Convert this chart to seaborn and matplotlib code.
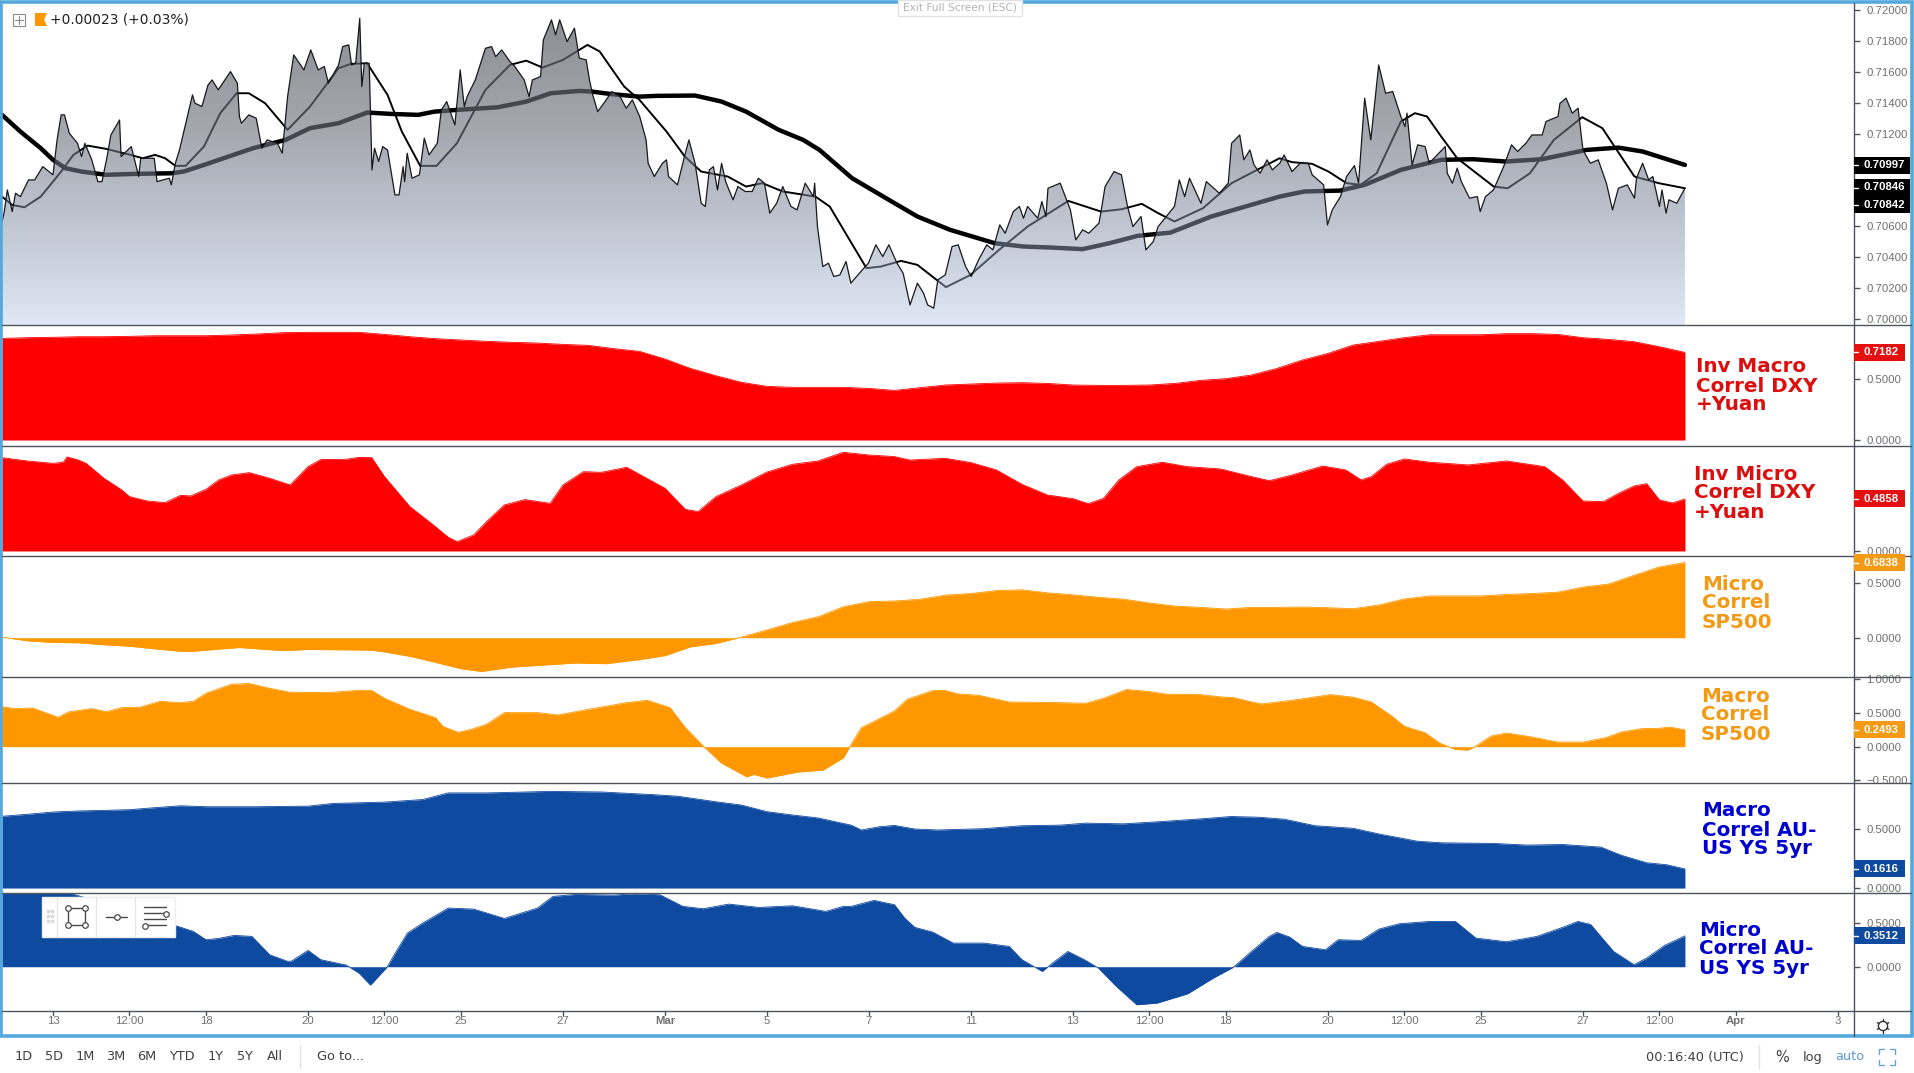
import numpy as np
import matplotlib
matplotlib.use("Agg")
import matplotlib.pyplot as plt
import seaborn as sns
from matplotlib.patches import Rectangle, PathPatch, Circle

price_bar = [0.0,0.8,2.1,4.0,5.3,7.2,10.4,12.8,16.0,18.4,20.0,21.6,23.2,24.5,26.4,29.6,31.2,32.5,35.2,37.6,39.2,41.1,42.7,46.1,46.7,50.7,53.6,54.4,59.7,60.8,65.6,66.4,68.0,69.6,74.7,75.7,78.4,80.8,82.4,84.8,89.6,92.3,93.1,93.9,96.8,99.7,101.9,104.0,108.0,109.9,112.0,114.4,118.4,121.1,124.0,126.4,128.0,132.0,133.6,136.0,137.1,138.7,140.3,141.1,142.1,144.0,145.1,146.1,147.7,149.3,151.2,154.1,155.7,157.3,157.9,158.9,160.8,163.7,165.6,167.5,170.7,172.3,174.4,177.6,179.7,181.3,182.4,185.6,189.6,192.0,193.6,196.0,199.2,201.1,204.8,206.7,208.0,211.2,212.3,215.5,217.1,218.7,221.6,224.5,226.4,229.1,230.4,231.5,233.6,236.0,239.2,242.4,244.8,247.2,250.1,
             252.6,253.4,255.8,259.0,260.6,261.4,264.9,267.8,269.4,271.8,274.2,275.8,277.4,279.0,280.6,282.2,283.8,286.7,288.6,291.5,294.2,296.6,299.0,301.1,303.8,306.2,309.4,311.8,315.0,318.2,318.7,319.8,321.9,324.1,326.2,328.6,331.0,332.9,337.4,339.8,342.7,345.4,347.8,351.0,353.4,356.1,359.0,361.4,363.0,365.4,367.0,369.9,372.6,375.0,377.9,380.1,383.0,386.2,388.6,391.3,393.4,396.6,399.0,400.6,402.2,406.2,407.8,409.4,410.2,415.0,419.0,421.1,423.8,426.2,430.2,431.0,432.6,436.1,439.0,441.4,443.5,446.7,448.6,451.5,453.4,456.6,459.8,461.7,463.8,465.7,470.2,472.3,477.4,480.9,482.2,485.4,487.0,489.4,491.0,493.4,496.1,498.2,501.1,
             502.8,505.9,509.1,512.3,513.8,518.3,519.8,521.7,524.9,527.3,530.4,532.0,534.4,536.8,539.9,542.6,545.4,548.6,550.2,551.0,553.0,555.2,558.1,559.7,566.0,566.8,568.8,570.7,572.3,575.5,578.6,579.7,581.8,584.9,588.9,592.0,594.4,597.6,600.0,604.0,605.5,610.2,611.0,613.4,615.8,618.1,620.0,622.9,626.0,629.2,631.6,633.9,637.4,640.2,641.0,643.4,645.8,647.4,650.0,651.0,652.6,653.7,656.8,660.0]
price_val = [.70631,.70685,.70835,.70695,.70814,.70792,.70900,.70900,.70986,.70954,.70933,.71159,.71321,.71321,.71202,.71137,.71051,.71137,.71030,.70889,.70889,.71040,.71191,.71288,.71051,.71116,.70922,.71040,.71040,.70889,.70911,.70868,.71008,.71094,.71450,.71396,.71375,.71515,.71547,.71483,.71601,.71526,.71310,.71267,.71321,.71299,.71105,.71159,.71137,.71073,.71439,.71709,.71612,.71741,.71612,.71634,.71526,.71644,.71763,.71774,.71644,.71655,.71946,.71504,.71655,.71655,.70965,.71105,.71019,.71116,.71094,.70803,.70803,.70986,.70889,.71073,.70911,.70933,.71170,.71062,.71137,.71353,.71407,.71256,.71612,.71375,.71439,.71547,.71752,.71763,.71698,.71741,.71666,.71634,.71547,.71439,.71547,.71569,.71806,.71936,.71839,.71936,.71795,.71882,.71688,.71677,.71547,.71461,.71342,.71396,.71472,.71439,.71364,.71418,.71310,
             .71159,.71008,.70922,.71008,.71030,.70922,.70868,.71062,.71159,.71008,.70749,.70728,.70965,.70986,.70835,.71008,.70889,.70771,.70857,.70825,.70825,.70911,.70879,.70685,.70749,.70857,.70728,.70706,.70879,.70792,.70879,.70598,.70339,.70361,.70275,.70285,.70372,.70232,.70318,.70361,.70480,.70404,.70480,.70361,.70296,.70091,.70232,.70167,.70091,.70070,.70253,.70285,.70469,.70480,.70339,.70275,.70383,.70480,.70447,.70609,.70555,.70695,.70728,.70652,.70728,.70652,.70760,.70663,.70846,.70879,.70706,.70512,.70577,.70555,.70620,.70695,.70857,.70954,.70933,.70728,.70598,.70663,.70447,.70501,.70598,.70663,.70728,.70900,.70792,.70911,.70749,.70889,.70814,.70879,.71137,.71191,.71030,.71094,.70997,.70943,.71030,.70965,.71008,
             .71062,.70954,.71008,.71008,.70933,.70868,.70609,.70706,.70792,.70922,.70993,.70879,.71429,.71159,.71644,.71461,.71472,.71310,.71245,.71332,.70997,.71127,.71116,.71008,.71116,.70943,.70879,.70976,.70889,.70782,.70792,.70695,.70792,.70835,.70986,.71127,.71084,.71137,.71191,.71191,.71278,.71310,.71396,.71429,.71332,.71364,.71094,.71008,.71030,.70879,.70706,.70846,.70868,.70782,.70911,.71008,.70900,.70922,.70728,.70835,.70685,.70771,.70749,.70846]

slow_bar = [0,7.2,15.2,20,24.8,31.2,40.8,52,66.4,71.2,79.2,88.8,98.4,111.2,120.8,132,143.2,152.8,163.2,169.6,178.4,194.4,205.6,215.2,226.4,231.2,239.2,250,256.6,271.8,282.2,291.8,304.6,314.2,320.6,333.4,347.8,359,371.8,389.4,400.6,411.8,423.8,434.2,445.4,458.2,474.2,485.4,501,510.7,524.9,534.4,548.6,564.4,577,589.7,603.9,621.3,633.9,643.4,660]
slow_val = [.71321,.71213,.71105,.71030,.70976,.70954,.70933,.70939,.70943,.70954,.70997,.71051,.71105,.71159,.71235,.71267,.71336,.71327,.71321,.71342,.71353,.71370,.71407,.71461,.71476,.71472,.71455,.71439,.71444,.71446,.71407,.71342,.71224,.71159,.71094,.70911,.70771,.70663,.70577,.70490,.70469,.70462,.70452,.70490,.70538,.70559,.70663,.70717,.70792,.70825,.70831,.70868,.70965,.71030,.71034,.71019,.71034,.71094,.71109,.71084,.70997]

fast_bar = [0,4,8.8,15.2,23.2,28,33.6,40.8,50.4,55.2,60,64,68,72,79.2,85.6,92,96.8,103.2,112,120.8,132,136.8,143.2,151.2,156.8,164,170.4,178.4,189.6,199.2,205.6,212,220,229.6,234.4,244,250,260.6,267.8,274.2,284.6,291.8,298.2,306.2,319,324.6,339,344.6,352.6,359,370.2,379.8,391,402.2,418.2,431,439,447,453.4,459.8,471,482.2,501,505.9,513.8,520.2,527.3,532.8,539.1,548.6,554.1,558.9,564.4,570.7,585,590.5,599.2,608.6,619.7,627.6,640.2,649.7,660]
fast_val = [.70792,.70738,.70723,.70792,.70954,.71062,.71122,.71101,.71062,.71040,.71062,.71040,.70991,.70991,.71116,.71332,.71461,.71461,.71396,.71224,.71375,.71623,.71651,.71655,.71450,.71213,.70991,.70991,.71137,.71483,.71644,.71672,.71627,.71677,.71774,.71731,.71504,.71418,.71213,.71051,.70954,.70922,.70857,.70879,.70825,.70792,.70728,.70329,.70339,.70376,.70350,.70206,.70285,.70447,.70598,.70764,.70695,.70710,.70745,.70685,.70631,.70717,.70879,.71040,.71015,.71004,.70954,.70879,.70868,.70943,.71278,.71332,.71310,.71181,.71040,.70857,.70846,.70943,.71159,.71306,.71235,.70922,.70879,.70846]

inv_macro_bar = list(range(0, 661, 10))
inv_macro_val = [.833,.839,.842,.847,.847,.850,.855,.855,.855,.861,.869,.880,.883,.883,.883,.866,.847,.831,.820,.809,.801,.795,.784,.776,.749,.727,.664,.587,.527,.473,.440,.432,.432,.432,.423,.407,.429,.451,.459,.467,.470,.464,.451,.448,.448,.451,.464,.489,.503,.533,.587,.656,.710,.779,.809,.839,.863,.863,.863,.872,.872,.866,.839,.825,.806,.765,.7182]

inv_micro_bar = [0,10,20,24,25.5,30,33,40,47,50,57,64,70,74,80,85,90,97,105,113,120,125,135,140,145,150,160,170,175,178.5,185,190,197,205,215,220,228,235,245,260,268,273,280,290,300,310,320,330,340,350,356,370,380,390,400,410,420,426,432,438,445,455,465,478,490,497,505,518,527,533,537,543,550,560,575,590,605,612,620,628,634,640,645,650,655,660]
inv_micro_val = [.872,.841,.819,.829,.879,.850,.819,.679,.570,.508,.467,.452,.520,.514,.576,.664,.710,.732,.679,.617,.788,.854,.857,.875,.872,.695,.414,.227,.128,.087,.150,.274,.430,.480,.445,.617,.741,.735,.782,.586,.389,.368,.508,.617,.738,.810,.841,.922,.897,.882,.850,.866,.826,.757,.623,.523,.489,.442,.492,.664,.788,.829,.788,.766,.695,.657,.704,.794,.757,.664,.695,.810,.860,.829,.804,.841,.788,.664,.467,.461,.539,.607,.629,.477,.449,.4858]

micro_sp_bar = [0,10,20,30,40,50,60,70,75,93,110,120,135,145,150,160,170,180,188,200,210,225,237,250,260,270,280,290,300,310,320,330,340,350,360,370,380,390,400,410,420,430,440,450,460,470,480,490,500,510,520,530,540,550,560,580,590,600,610,620,630,640,650,660]
micro_sp_val = [.006,-.028,-.043,-.046,-.064,-.077,-.101,-.123,-.123,-.089,-.117,-.107,-.110,-.113,-.129,-.169,-.224,-.282,-.307,-.267,-.252,-.230,-.236,-.199,-.163,-.083,-.052,.006,.071,.138,.190,.282,.328,.334,.350,.387,.402,.429,.436,.408,.390,.368,.350,.316,.288,.276,.261,.276,.276,.279,.273,.264,.298,.353,.380,.380,.393,.402,.414,.460,.488,.567,.644,.6838]

macro_sp_bar = [0,5,12,22,26,35,41,47,54,62,70,75,80,90,97,105,113,128,140,145,150,160,170,173,179,184,190,197,210,218,230,245,253,262,268,275,282,292,295,300,312,322,330,333,337,343,350,355,365,370,375,383,395,415,425,432,441,449,457,470,478,483,490,494,505,515,521,530,537,545,550,558,564,570,575,578,584,590,600,610,620,629,635,643,650,654,660]
macro_sp_val = [.594,.564,.574,.436,.515,.564,.520,.579,.584,.673,.653,.673,.792,.926,.936,.866,.807,.802,.837,.832,.718,.554,.431,.297,.213,.257,.332,.505,.505,.470,.554,.653,.688,.579,.282,.010,-.238,-.446,-.411,-.465,-.376,-.347,-.163,.035,.282,.396,.530,.703,.832,.832,.782,.762,.663,.653,.644,.718,.847,.822,.777,.772,.738,.728,.663,.634,.683,.738,.772,.733,.663,.455,.302,.208,.050,-.040,-.050,.010,.158,.203,.144,.069,.069,.134,.218,.267,.272,.292,.2493]

macro_au_bar = [0,10,20,30,40,50,60,70,80,100,120,130,150,165,175,190,200,215,235,255,265,280,290,300,310,320,333,337,344,350,358,367,385,400,415,425,440,455,470,482,493,503,515,530,540,555,565,585,598,612,627,635,645,653,660]
macro_au_val = [.608,.625,.644,.653,.658,.664,.681,.697,.689,.689,.694,.717,.728,.750,.806,.806,.811,.819,.814,.792,.778,.731,.703,.647,.619,.594,.533,.492,.519,.531,.500,.492,.503,.528,.533,.550,.544,.564,.586,.606,.600,.583,.528,.506,.458,.397,.383,.378,.364,.369,.347,.278,.214,.197,.1616]

micro_au_bar = [0,20,25,40,55,69,75,80,85,91,98,105,112,113.5,120,125,135,140,144.5,151,155,159,165,175,185,197,210,216,225,240,248,258,267,275,285,297,310,323,330,333,342,350,354,358,365,373,385,395,400,408,412,418,425,430,437,445,453,465,475,483,490,497,500,505,510,519,524,533,540,548,560,570,578,590,602,613,618,623,632,640,645,652,660]
micro_au_val = [.90,.90,.85,.72,.60,.458,.402,.307,.322,.356,.345,.136,.061,.064,.186,.080,.019,-.072,-.208,-.004,.193,.383,.496,.667,.655,.549,.667,.799,.822,.814,.830,.818,.686,.659,.712,.674,.693,.629,.686,.686,.754,.705,.553,.447,.394,.269,.269,.231,.080,-.053,.042,.174,.072,-.015,-.223,-.432,-.413,-.307,-.129,-.004,.174,.345,.390,.337,.231,.193,.307,.299,.428,.489,.515,.515,.326,.284,.345,.458,.515,.481,.174,.023,.098,.242,.3512]

x_ticks = [20,50,80,120,150,180,220,260,300,340,380,420,450,480,520,550,580,620,650,680,720]
x_labels = ['13','12:00','18','20','12:00','25','27','Mar','5','7','11','13','12:00','18','20','12:00','25','27','12:00','Apr','3']
price_ticks = [.72,.718,.716,.714,.712,.71,.706,.704,.702,.70]

W, H = 1914, 1073
RED, ORANGE, BLUE = '#ff0000', '#ff9800', '#0f4aa1'
GREY = '#50535e'
TICK_TXT = '#6f6f6f'
FRAME = '#54a8dc'

sns.set_theme(style="white")
plt.rcParams['font.family'] = ['Liberation Sans', 'DejaVu Sans']

fig = plt.figure(figsize=(W / 100, H / 100), dpi=100)

def pane(y0, y1):
    a = fig.add_axes([2 / W, 1 - y1 / H, 1852 / W, (y1 - y0) / H])
    a.set_xlim(0, 726.3)
    a.set_facecolor('white')
    a.set_xticks([])
    for s in a.spines.values():
        s.set_visible(False)
    a.yaxis.tick_right()
    a.tick_params(axis='y', right=True, left=False, length=4, width=1, color=GREY,
                  labelcolor=TICK_TXT, labelsize=8.2, pad=5)
    return a

# Main price pane
ax = pane(3, 325)
ymin, ymax = .69961, .72045
sns.lineplot(x=slow_bar, y=slow_val, ax=ax, color='black', linewidth=3.2, estimator=None, errorbar=None, zorder=2)
sns.lineplot(x=fast_bar, y=fast_val, ax=ax, color='black', linewidth=1.4, estimator=None, errorbar=None, zorder=2)

# area gradient sits on top of the averages, that is why they turn grey under it
stop_y = [ymax, .7185, .712, .708, .704, .700, ymin]
stop_bg = [(.54, .55, .57), (.56, .57, .59), (.65, .66, .69), (.72, .74, .78), (.79, .82, .87), (.87, .90, .95), (.89, .92, .97)]
stop_a = [.72, .72, .62, .55, .5, .45, .45]
yy = np.linspace(ymax, ymin, 300)
alpha = np.interp(yy, stop_y[::-1], stop_a[::-1])
rgba = np.zeros((300, 1, 4))
for i in range(3):
    bg = np.interp(yy, stop_y[::-1], [c[i] for c in stop_bg][::-1])
    rgba[:, 0, i] = np.clip((bg - (1 - alpha)) / alpha, 0, 1)
rgba[:, 0, 3] = alpha
poly = ax.fill_between(price_bar, price_val, ymin, color='none', linewidth=0)
im = ax.imshow(rgba, extent=[0, 660, ymin, ymax], aspect='auto', zorder=3)
clip = PathPatch(poly.get_paths()[0], fc='none', ec='none', transform=ax.transData)
ax.add_patch(clip)
im.set_clip_path(clip)
sns.lineplot(x=price_bar, y=price_val, ax=ax, color='#17181c', linewidth=.9, estimator=None, errorbar=None, zorder=4)
ax.set_xlim(0, 726.3)
ax.set_ylim(ymin, ymax)
ax.set_yticks(price_ticks)
ax.set_yticklabels(['%.5f' % t for t in price_ticks])
ax.set_xlabel('')
ax.set_ylabel('')

# Correlation panes
panes = [
    (325, 446, inv_macro_bar, inv_macro_val, RED, (-.049, .943), [0, .5]),
    (446, 556, inv_micro_bar, inv_micro_val, RED, (-.047, .981), [0]),
    (556, 677, micro_sp_bar, micro_sp_val, ORANGE, (-.357, .743), [0, .5]),
    (677, 783, macro_sp_bar, macro_sp_val, ORANGE, (-.538, 1.033), [-.5, 0, .5, 1]),
    (783, 893, macro_au_bar, macro_au_val, BLUE, (-.042, .890), [0, .5]),
    (893, 1011, micro_au_bar, micro_au_val, BLUE, (-.503, .838), [0, .5]),
]
axes = []
for y0, y1, xs, ys, col, lims, ticks in panes:
    a = pane(y0, y1)
    sns.lineplot(x=xs, y=ys, ax=a, color=col, linewidth=.6, estimator=None, errorbar=None)
    a.fill_between(xs, ys, 0, color=col, linewidth=0)
    a.set_xlim(0, 726.3)
    a.set_ylim(*lims)
    a.set_yticks(ticks)
    a.set_yticklabels([('%.4f' % t).replace('-', '\u2212') for t in ticks])
    a.set_xlabel('')
    a.set_ylabel('')
    axes.append(a)

# Time axis
tax = pane(1011, 1036)
tax.set_yticks([])
tax.set_xticks(x_ticks)
tax.set_xticklabels(x_labels)
tax.tick_params(axis='x', top=False, bottom=False, labeltop=False, labelbottom=True,
                length=0, labelcolor=TICK_TXT, labelsize=8.2, pad=-14.5)
for lab in tax.get_xticklabels():
    if lab.get_text() in ('Mar', 'Apr'):
        lab.set_fontweight('bold')
tax.set_ylim(0, 1)
for t in x_ticks:
    tax.plot([t, t], [1, .84], color=GREY, lw=1)

# Overlay in pixel coordinates, for everything that is chrome and not chart
ov = fig.add_axes([0, 0, 1, 1], zorder=20)
ov.set_xlim(0, W)
ov.set_ylim(H, 0)
ov.axis('off')
ov.patch.set_alpha(0)

for y in [325, 446, 556, 677, 783, 893, 1011]:
    ov.plot([2, 1911], [y, y], color=GREY, lw=1)
ov.plot([1854, 1854], [3, 1036], color=GREY, lw=1)

# Frame
ov.add_patch(Rectangle((1, 1.5), 1910.5, 1034.5, fc='none', ec=FRAME, lw=2.6))

def badge(yc, txt, col, h=17, right=1905):
    ov.add_patch(Rectangle((1854, yc - h / 2), right - 1854, h, fc=col, ec='none', zorder=5))
    ov.plot([1854, 1858], [yc, yc], color='white', lw=1, zorder=6)
    ov.text(1863, yc, txt, color='white', fontsize=8.2, fontweight='bold', va='center', ha='left', zorder=6)

def val_y(a, v):
    return H - a.transData.transform((0, v))[1]

badge(165, '0.70997', 'black', h=17, right=1910)
ov.add_patch(Rectangle((1854, 179), 56, 34, fc='black', ec='none', zorder=5))
for yc, txt in [(187.5, '0.70846'), (204.5, '0.70842')]:
    ov.plot([1854, 1858], [yc, yc], color='white', lw=1, zorder=6)
    ov.text(1863, yc, txt, color='white', fontsize=8.2, fontweight='bold', va='center', ha='left', zorder=6)
badge(val_y(axes[0], .7182), '0.7182', '#e60f0f')
badge(val_y(axes[1], .4858), '0.4858', '#e60f0f')
badge(val_y(axes[2], .6838), '0.6838', '#f59a14')
badge(val_y(axes[3], .2493), '0.2493', '#f59a14')
badge(val_y(axes[4], .1616), '0.1616', BLUE)
badge(val_y(axes[5], .3512), '0.3512', BLUE)

# Pane captions
captions = [
    (1696, 386, 'Inv Macro\nCorrel DXY\n+Yuan', '#dc0f0f'),
    (1694, 493, 'Inv Micro\nCorrel DXY\n+Yuan', '#dc0f0f'),
    (1702, 603, 'Micro\nCorrel\nSP500', '#f39a14'),
    (1701, 715, 'Macro\nCorrel\nSP500', '#f39a14'),
    (1702, 830, 'Macro\nCorrel AU-\nUS YS 5yr', '#0000cc'),
    (1699, 949, 'Micro\nCorrel AU-\nUS YS 5yr', '#0000cc'),
]
for x, y, txt, col in captions:
    ov.text(x, y, txt, color=col, fontsize=14.3, fontweight='bold', family='DejaVu Sans',
            va='center', ha='left', linespacing=1.0)

# Legend at the top left
ov.add_patch(Rectangle((12.5, 13.5), 12, 12, fc='white', ec='#8a8a8a', lw=.8))
ov.plot([18.5, 18.5], [15.5, 23.5], color='#8a8a8a', lw=.8)
ov.plot([14.5, 22.5], [19.5, 19.5], color='#8a8a8a', lw=.8)
ov.fill([35, 47, 44, 47, 35], [13, 13, 19.5, 26, 26], color='#ff9800', lw=0)
ov.text(50.5, 19.5, '+0.00023 (+0.03%)', fontsize=9.95, family='DejaVu Sans', color='#1f1f1f', va='center')

# Exit full screen tab
ov.add_patch(Rectangle((898, 0), 124, 16, fc='white', ec='#e2e2e2', lw=1))
ov.text(960, 8, 'Exit Full Screen (ESC)', fontsize=7.6, family='DejaVu Sans', color='#b4b4b4', ha='center', va='center')

# Drawing toolbar
ov.add_patch(Rectangle((42, 897), 133, 40, fc='white', ec='#eeeeee', lw=1, zorder=7))
for x in [57, 96, 135]:
    ov.plot([x, x], [897, 937], color='#e6e6e6', lw=1, zorder=8)
for x in [48, 52]:
    for y in [911, 916, 921]:
        ov.plot(x, y, 's', ms=1.6, color='#d8d8d8', zorder=8)
ic = '#4a4a4a'
ov.plot([68, 85, 85, 68, 68], [908, 908, 925, 925, 908], color=ic, lw=1, zorder=8)
ov.plot([68, 85, 85, 68], [908, 908, 925, 925], 'o', ms=4, mfc='white', mec=ic, mew=.9, ls='', zorder=9)
ov.plot([106, 127], [917, 917], color=ic, lw=1, zorder=8)
ov.plot(116.5, 917, 'o', ms=4, mfc='white', mec=ic, mew=.9, zorder=9)
for y in [907, 913, 919, 925]:
    ov.plot([144, 166], [y, y], color=ic, lw=1, zorder=8)
ov.plot(165.5, 913.5, 'o', ms=4, mfc='white', mec=ic, mew=.9, zorder=9)
ov.plot(144.5, 925.5, 'o', ms=4, mfc='white', mec=ic, mew=.9, zorder=9)

# Gear
ov.add_patch(Circle((1883, 1026), 4.6, fc='white', ec='#333333', lw=1))
for ang in np.arange(0, 360, 60):
    r = np.deg2rad(ang + 30)
    ov.plot([1883 + 4.6 * np.cos(r), 1883 + 6.6 * np.cos(r)],
            [1026 + 4.6 * np.sin(r), 1026 + 6.6 * np.sin(r)], color='#333333', lw=1)

# Footer
foot_txt = [(24, '1D'), (54, '5D'), (85, '1M'), (116, '3M'), (147, '6M'), (182, 'YTD'), (216, '1Y'), (245, '5Y'), (275, 'All'), (341, 'Go to...')]
for x, txt in foot_txt:
    ov.text(x, 1057, txt, fontsize=9.3, family='DejaVu Sans', color='#404040', ha='center', va='center')
ov.plot([300, 300], [1045, 1068], color='#e2e2e2', lw=1)
ov.plot([1759, 1759], [1045, 1068], color='#e2e2e2', lw=1)
ov.text(1695, 1057, '00:16:40 (UTC)', fontsize=9.3, family='DejaVu Sans', color='#404040', ha='center', va='center')
ov.text(1782, 1057, '%', fontsize=10.5, family='DejaVu Sans', color='#404040', ha='center', va='center')
ov.text(1813, 1057, 'log', fontsize=9.3, family='DejaVu Sans', color='#404040', ha='center', va='center')
ov.text(1850, 1057, 'auto', fontsize=9.3, family='DejaVu Sans', color='#5b9bd5', ha='center', va='center')
for (x0, x1, x2), (y0, y1, y2) in [((1879, 1879, 1884), (1054, 1049, 1049)), ((1890, 1895, 1895), (1049, 1049, 1054)),
                                   ((1879, 1879, 1884), (1060, 1065, 1065)), ((1890, 1895, 1895), (1065, 1065, 1060))]:
    ov.plot([x0, x1, x2], [y0, y1, y2], color='#6aa5d8', lw=1)

ov.set_xlim(0, W)
ov.set_ylim(H, 0)

fig.savefig('out.png', dpi=100, facecolor='white')
